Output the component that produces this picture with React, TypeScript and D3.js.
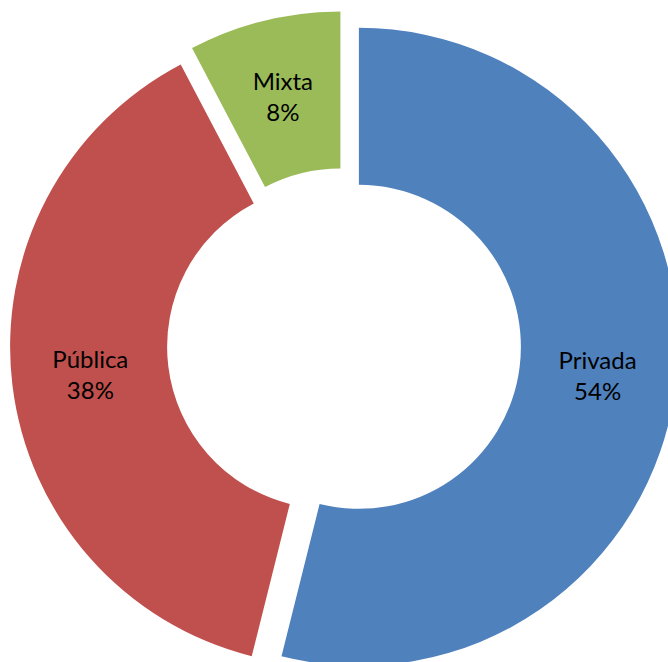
import React from "react";
import * as d3 from "d3";

const categories = ["Privada", "Pública", "Mixta"];
const values = [53.9, 38.4, 7.7];
const colors = ["#4F81BD", "#C0504D", "#9BBB59"];

const W = 668;
const H = 662;
const CX = 344;
const CY = 345;
const R_OUT = 319;
const R_IN = 162;
const EXPLODE = 15;

export default function App() {
  const pie = d3.pie<number>().sort(null).startAngle(0).endAngle(2 * Math.PI);
  const arcs = pie(values);
  const arc = d3.arc<d3.PieArcDatum<number>>().innerRadius(R_IN).outerRadius(R_OUT);
  const total = d3.sum(values);
  return (
    <svg width={W} height={H} style={{ position: "absolute", left: 0, top: 0, background: "#fff" }}>
      {arcs.map((a, i) => {
        const mid = (a.startAngle + a.endAngle) / 2;
        const dx = Math.sin(mid) * EXPLODE;
        const dy = -Math.cos(mid) * EXPLODE;
        const [lx, ly] = arc.centroid(a);
        const pct = Math.round((a.value / total) * 100) + "%";
        return (
          <g key={categories[i]} transform={`translate(${CX + dx},${CY + dy})`}>
            <path d={arc(a) || ""} fill={colors[i]} />
            <text
              x={lx}
              y={ly}
              textAnchor="middle"
              fontFamily="Lato, 'Noto Sans', sans-serif"
              fontSize={24}
              fill="#000"
            >
              <tspan x={lx} y={ly - 7}>{categories[i]}</tspan>
              <tspan x={lx} y={ly + 24}>{pct}</tspan>
            </text>
          </g>
        );
      })}
    </svg>
  );
}
